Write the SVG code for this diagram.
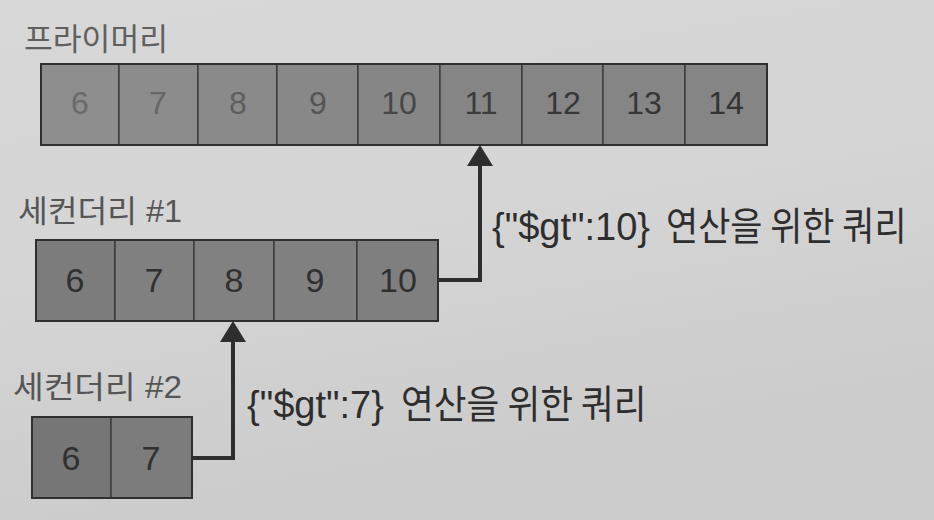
<svg xmlns="http://www.w3.org/2000/svg" width="934" height="520" viewBox="0 0 934 520">
<defs>
<linearGradient id="bg" x1="0" y1="0" x2="0.3" y2="1">
<stop offset="0" stop-color="#d8d8d8"/>
<stop offset="0.5" stop-color="#d5d5d5"/>
<stop offset="1" stop-color="#cbcbcb"/>
</linearGradient>
<marker id="head" markerUnits="userSpaceOnUse" markerWidth="21" markerHeight="26" refX="4" refY="13" orient="auto" viewBox="0 0 21 26">
<path d="M0,0 L21,13 L0,26 Z" fill="#2e2e2e"/>
</marker>
<style>
.cell{fill:#858585;stroke:#333;stroke-width:1.2}
.box{fill:none;stroke:#2f2f2f;stroke-width:2}
.num{font-family:"Liberation Sans",Arial,sans-serif;fill:#303030;text-anchor:middle}
.p{font-size:32px}
.s{font-size:34px}
.lbl{font-family:"Liberation Sans","Noto Sans CJK KR",sans-serif;font-size:31px;fill:#555}
.q{font-family:"Liberation Sans","Noto Sans CJK KR",sans-serif;font-size:38px;fill:#2e2e2e}
.qk{font-family:"Noto Sans CJK KR","Liberation Sans",sans-serif;font-size:39px;fill:#2e2e2e}
.conn{fill:none;stroke:#2e2e2e;stroke-width:4}
</style>
</defs>
<rect width="934" height="520" fill="url(#bg)"/>

<g id="primary">
<text class="lbl" x="24" y="50" textLength="144" lengthAdjust="spacingAndGlyphs" style="fill:#606060">프라이머리</text>
<rect class="cell" x="41" y="64" width="78" height="81" style="fill:#8e8e8e"/>
<rect class="cell" x="119" y="64" width="79" height="81" style="fill:#8c8c8c"/>
<rect class="cell" x="198" y="64" width="79" height="81" style="fill:#8a8a8a"/>
<rect class="cell" x="277" y="64" width="81" height="81" style="fill:#888"/>
<rect class="cell" x="358" y="64" width="82" height="81" style="fill:#868686"/>
<rect class="cell" x="440" y="64" width="82" height="81"/>
<rect class="cell" x="522" y="64" width="81" height="81"/>
<rect class="cell" x="603" y="64" width="82" height="81"/>
<rect class="cell" x="685" y="64" width="82" height="81"/>
<rect class="box" x="41" y="64" width="726" height="81"/>
<text class="num p" x="80" y="114" style="fill:#6a6a6a">6</text>
<text class="num p" x="158" y="114" style="fill:#666">7</text>
<text class="num p" x="238" y="114" style="fill:#5e5e5e">8</text>
<text class="num p" x="318" y="114" style="fill:#555">9</text>
<text class="num p" x="399" y="114" style="fill:#474747">10</text>
<text class="num p" x="481" y="114" style="fill:#3c3c3c">11</text>
<text class="num p" x="563" y="114" style="fill:#363636">12</text>
<text class="num p" x="644" y="114" style="fill:#363636">13</text>
<text class="num p" x="726" y="114" style="fill:#333">14</text>
</g>

<g id="secondary1">
<text class="lbl" x="18" y="222" textLength="164" lengthAdjust="spacingAndGlyphs">세컨더리 #1</text>
<rect class="cell" x="36" y="240" width="79" height="81" style="fill:#7c7c7c"/>
<rect class="cell" x="115" y="240" width="79" height="81" style="fill:#808080"/>
<rect class="cell" x="194" y="240" width="80" height="81" style="fill:#818181"/>
<rect class="cell" x="274" y="240" width="83" height="81" style="fill:#808080"/>
<rect class="cell" x="357" y="240" width="81" height="81" style="fill:#7f7f7f"/>
<rect class="box" x="36" y="240" width="402" height="81"/>
<text class="num s" x="75" y="292">6</text>
<text class="num s" x="154" y="292">7</text>
<text class="num s" x="234" y="292">8</text>
<text class="num s" x="315" y="292">9</text>
<text class="num s" x="398" y="292">10</text>
</g>

<g id="secondary2">
<text class="lbl" x="13" y="398" textLength="169" lengthAdjust="spacingAndGlyphs">세컨더리 #2</text>
<rect class="cell" x="32" y="417" width="79" height="81" style="fill:#767676"/>
<rect class="cell" x="111" y="417" width="81" height="81" style="fill:#7c7c7c"/>
<rect class="box" x="32" y="417" width="160" height="81"/>
<text class="num s" x="71" y="470">6</text>
<text class="num s" x="151" y="470">7</text>
</g>

<g id="connectors">
<polyline class="conn" points="438,280 480,280 480,162" marker-end="url(#head)"/>
<polyline class="conn" points="192,458 233,458 233,338" marker-end="url(#head)"/>
</g>

<g id="query1">
<text class="q" x="492" y="240">{"$gt":10}</text>
<text class="qk" transform="translate(666,240) scale(0.85,1)" x="0" y="0" textLength="283" lengthAdjust="spacingAndGlyphs">연산을 위한 쿼리</text>
</g>
<g id="query2">
<text class="q" x="247" y="418">{"$gt":7}</text>
<text class="qk" transform="translate(401,418) scale(0.85,1)" x="0" y="0" textLength="289" lengthAdjust="spacingAndGlyphs">연산을 위한 쿼리</text>
</g>
</svg>
